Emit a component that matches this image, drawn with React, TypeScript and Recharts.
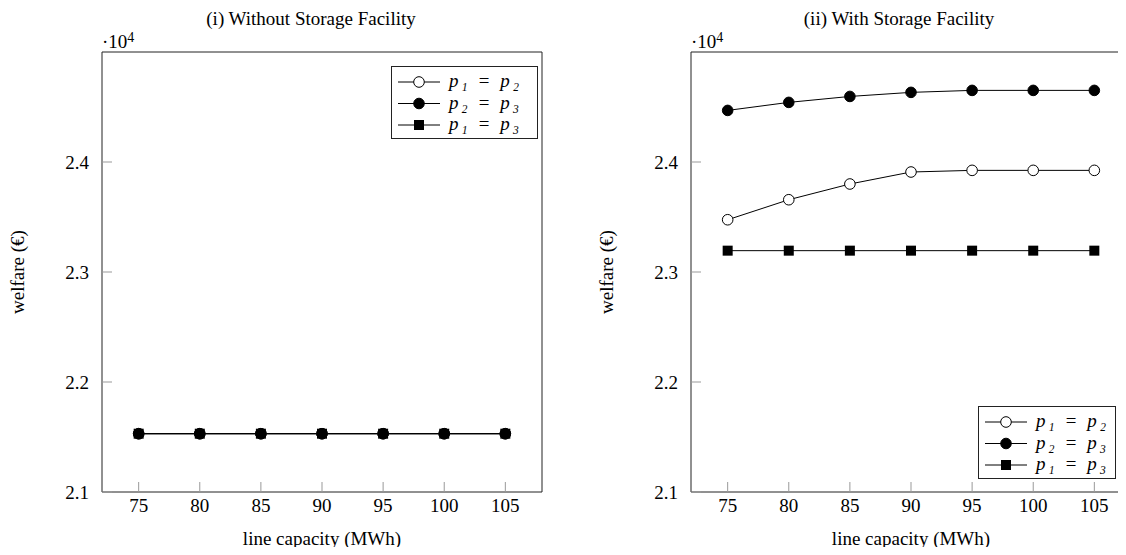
import React from 'react';
import { LineChart, Line, XAxis, YAxis, Legend } from 'recharts';

// line capacity (MWh)
const CAPACITY = [75, 80, 85, 90, 95, 100, 105];
const X_TICKS = [75, 80, 85, 90, 95, 100, 105];
const Y_TICKS = [21000, 22000, 23000, 24000];

// welfare in euro
const NO_STORAGE_P1P2 = [21530, 21530, 21530, 21530, 21530, 21530, 21530];
const NO_STORAGE_P2P3 = [21530, 21530, 21530, 21530, 21530, 21530, 21530];
const NO_STORAGE_P1P3 = [21530, 21530, 21530, 21530, 21530, 21530, 21530];

const STORAGE_P1P2 = [23475, 23657, 23800, 23909, 23924, 23924, 23924];
const STORAGE_P2P3 = [24469, 24542, 24596, 24633, 24651, 24651, 24651];
const STORAGE_P1P3 = [23194, 23194, 23194, 23194, 23194, 23194, 23194];

const SERIES = [
  { key: 'p12', label: 'p₁ = p₂', marker: 'open' },
  { key: 'p23', label: 'p₂ = p₃', marker: 'full' },
  { key: 'p13', label: 'p₁ = p₃', marker: 'square' },
];

const FONT = '"Liberation Serif", "Times New Roman", serif';
const W = 560;
const H = 555;
// axes are 1px wide/tall, so plot area ends up at x 102..542, y 52..492
const MARGIN = { top: 51, right: 17, bottom: 62, left: 101 };

const buildRows = (a: number[], b: number[], c: number[]) =>
  CAPACITY.map((cap, i) => ({ cap, p12: a[i], p23: b[i], p13: c[i] }));

const leftRows = buildRows(NO_STORAGE_P1P2, NO_STORAGE_P2P3, NO_STORAGE_P1P3);
const rightRows = buildRows(STORAGE_P1P2, STORAGE_P2P3, STORAGE_P1P3);

const renderDot = (marker: string) => (props: any) => {
  const { cx, cy, index } = props;
  if (marker === 'square') {
    return <rect key={`sq-${index}`} x={cx - 5} y={cy - 5} width={10} height={10} fill="#000" />;
  }
  return (
    <circle
      key={`c-${marker}-${index}`}
      cx={cx}
      cy={cy}
      r={5.3}
      fill={marker === 'open' ? '#fff' : '#000'}
      stroke="#000"
      strokeWidth={1}
    />
  );
};

const serif = { fontFamily: FONT };

const LegendBox = ({ width }: { width: number }) => (
  <svg width={width} height={73} style={{ display: 'block' }}>
    <rect x={0.5} y={0.5} width={width - 1} height={72} fill="#fff" stroke="#222" />
    {SERIES.map((s, i) => {
      const y = 16 + i * 21.5;
      return (
        <g key={s.key}>
          <line x1={7} x2={49} y1={y} y2={y} stroke="#000" strokeWidth={1} />
          {s.marker === 'square' ? (
            <rect x={23} y={y - 5} width={10} height={10} fill="#000" />
          ) : (
            <circle cx={28} cy={y} r={5.3} fill={s.marker === 'open' ? '#fff' : '#000'} stroke="#000" />
          )}
          <text
            x={58}
            y={y + 5}
            fontSize={19}
            fontStyle="italic"
            fill="#000"
            style={serif}
            textLength={70}
            lengthAdjust="spacing"
          >
            {s.label}
          </text>
        </g>
      );
    })}
  </svg>
);

const tickStyle = { fontSize: 19, fill: '#000', fontFamily: FONT, style: serif };

const Panel = ({ rows, legendPos }: { rows: any[]; legendPos: { left: number; top: number; width: number } }) => (
  <LineChart width={W} height={H} data={rows} margin={MARGIN}>
    <XAxis
      dataKey="cap"
      type="number"
      domain={[72, 108]}
      ticks={X_TICKS}
      height={1}
      tickSize={-10}
      tickMargin={17}
      tick={tickStyle}
      tickLine={{ stroke: '#999' }}
      axisLine={{ stroke: '#222' }}
      allowDataOverflow
    />
    <XAxis
      xAxisId="top"
      orientation="top"
      type="number"
      domain={[72, 108]}
      ticks={X_TICKS}
      height={1}
      tickSize={-10}
      tick={false}
      tickLine={{ stroke: '#999' }}
      axisLine={{ stroke: '#222' }}
      allowDataOverflow
    />
    <YAxis
      type="number"
      domain={[21000, 25000]}
      ticks={Y_TICKS}
      width={1}
      tickSize={-10}
      tickMargin={23}
      tick={tickStyle}
      tickFormatter={(v: number) => (v / 10000).toFixed(1)}
      tickLine={{ stroke: '#999' }}
      axisLine={{ stroke: '#222' }}
      allowDataOverflow
    />
    <YAxis
      yAxisId="right"
      orientation="right"
      type="number"
      domain={[21000, 25000]}
      ticks={Y_TICKS}
      width={1}
      tickSize={-10}
      tick={false}
      tickLine={{ stroke: '#999' }}
      axisLine={{ stroke: '#222' }}
      allowDataOverflow
    />
    {SERIES.map((s) => (
      <Line
        key={s.key}
        dataKey={s.key}
        stroke="#000"
        strokeWidth={1}
        dot={renderDot(s.marker)}
        activeDot={false}
        isAnimationActive={false}
      />
    ))}
    <Legend
      layout="horizontal"
      verticalAlign="middle"
      align="center"
      width={legendPos.width}
      height={73}
      wrapperStyle={{ left: legendPos.left, top: legendPos.top, width: legendPos.width, height: 73 }}
      content={() => <LegendBox width={legendPos.width} />}
    />
  </LineChart>
);

const textBase: React.CSSProperties = {
  position: 'absolute',
  fontFamily: FONT,
  fontSize: 19,
  lineHeight: '22px',
  whiteSpace: 'nowrap',
  color: '#000',
};

const centered = (x: number, y: number, extra: React.CSSProperties = {}): React.CSSProperties => ({
  ...textBase,
  left: x,
  top: y,
  transform: 'translate(-50%, -50%)',
  ...extra,
});

const Exponent = ({ x }: { x: number }) => (
  <div style={{ ...textBase, left: x, top: 27 }}>
    ·10<sup style={{ fontSize: 14, verticalAlign: '6px' }}>4</sup>
  </div>
);

export default function App() {
  const rightShift = 589;
  return (
    <div
      style={{
        position: 'relative',
        width: 1126,
        height: 555,
        margin: -8,
        overflow: 'hidden',
        background: '#fff',
      }}
    >
      <div style={{ position: 'absolute', left: 0, top: 0 }}>
        <Panel rows={leftRows} legendPos={{ left: 391, top: 66, width: 147 }} />
      </div>
      <div style={{ position: 'absolute', left: rightShift, top: 0 }}>
        <Panel rows={rightRows} legendPos={{ left: 978 - rightShift, top: 406, width: 138 }} />
      </div>

      <div style={centered(311, 19)}>(i) Without Storage Facility</div>
      <div style={centered(899, 19)}>(ii) With Storage Facility</div>
      <Exponent x={102} />
      <Exponent x={691} />

      <div style={centered(322, 539)}>line capacity (MWh)</div>
      <div style={centered(911, 539)}>line capacity (MWh)</div>
      <div style={centered(18, 272, { transform: 'translate(-50%, -50%) rotate(-90deg)' })}>welfare (€)</div>
      <div style={centered(607, 272, { transform: 'translate(-50%, -50%) rotate(-90deg)' })}>welfare (€)</div>
    </div>
  );
}
